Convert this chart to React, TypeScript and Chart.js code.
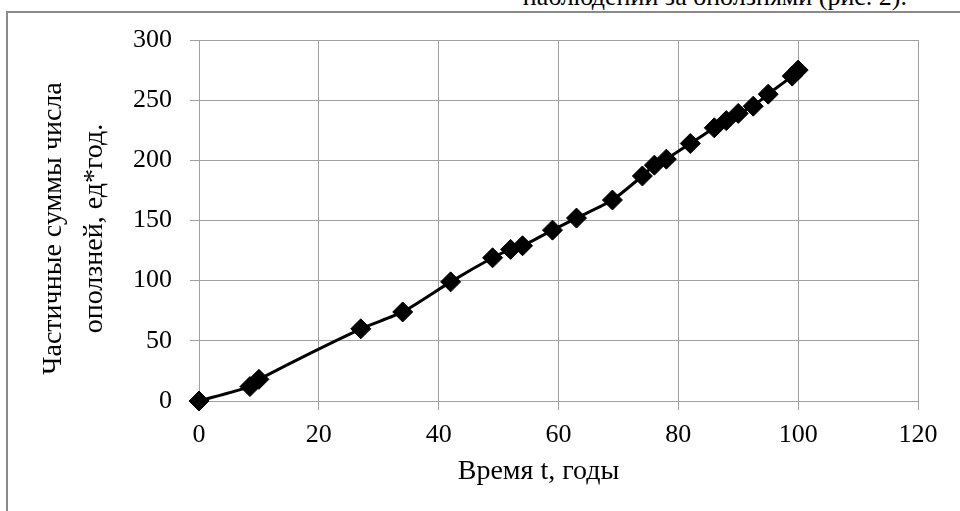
import React, { useEffect, useRef } from "react";
import { Chart, registerables } from "chart.js";

Chart.register(...registerables);

// Время наблюдений, годы
const years = [0, 8.5, 10, 27, 34, 42, 49, 52, 54, 59, 63, 69, 74, 76, 78, 82, 86, 88, 90, 92.5, 95, 99, 100];
// Частичные суммы числа оползней, ед*год.
const partialSums = [0, 12, 18, 60, 74, 99, 119, 126, 129, 142, 152, 167, 187, 196, 201, 214, 227, 233, 239, 245, 255, 270, 275];

const xTicks = [0, 20, 40, 60, 80, 100, 120];
const yTicks = [0, 50, 100, 150, 200, 250, 300];

const xTitle = "Время t, годы";
const yTitleLines = ["Частичные суммы числа", "оползней, ед*год."];
const headerText = "наблюдений за оползнями (рис. 2).";

const FONT = "'Liberation Serif', 'Times New Roman', serif";
const GRID = "#a0a0a0";

const axisCaptions = {
  id: "axisCaptions",
  afterDraw(chart: any) {
    const { ctx, chartArea } = chart;
    ctx.save();
    ctx.fillStyle = "#000";
    ctx.font = `28px ${FONT}`;
    ctx.textAlign = "center";
    ctx.textBaseline = "middle";
    const cx = (chartArea.left + chartArea.right) / 2 - 20;
    ctx.fillText(xTitle, cx, chartArea.bottom + 71);

    const cy = (chartArea.top + chartArea.bottom) / 2 + 8;
    ctx.translate(0, cy);
    ctx.rotate(-Math.PI / 2);
    ctx.fillText(yTitleLines[0], 0, 54);
    ctx.fillText(yTitleLines[1], 0, 95);
    ctx.restore();
  },
};

export default function App() {
  const canvasRef = useRef<HTMLCanvasElement | null>(null);

  useEffect(() => {
    const canvas = canvasRef.current;
    if (!canvas) return;
    const points = years.map((t, i) => ({ x: t, y: partialSums[i] }));
    const chart = new Chart(canvas, {
      type: "scatter",
      data: {
        datasets: [
          {
            data: points,
            showLine: true,
            clip: false,
            borderColor: "#000",
            borderWidth: 3,
            tension: 0.2,
            pointStyle: "rectRot",
            pointRadius: 10,
            pointBackgroundColor: "#000",
            pointBorderColor: "#000",
            pointBorderWidth: 1,
          },
        ],
      },
      options: {
        responsive: false,
        animation: false,
        layout: { padding: { top: 40, right: 42, left: 0, bottom: 0 } },
        plugins: {
          legend: { display: false },
          tooltip: { enabled: false },
        },
        scales: {
          x: {
            type: "linear",
            min: 0,
            max: 120,
            afterBuildTicks: (scale: any) => {
              scale.ticks = xTicks.map((v) => ({ value: v }));
            },
            afterFit: (scale: any) => {
              scale.height = 110;
            },
            ticks: {
              color: "#000",
              font: { family: FONT, size: 26 },
              padding: 10,
              maxRotation: 0,
            },
            grid: { color: GRID, lineWidth: 1, tickLength: 9 },
            border: { color: GRID, width: 1 },
          },
          y: {
            type: "linear",
            min: 0,
            max: 300,
            afterBuildTicks: (scale: any) => {
              scale.ticks = yTicks.map((v) => ({ value: v }));
            },
            afterFit: (scale: any) => {
              scale.width = 199;
            },
            ticks: {
              color: "#000",
              font: { family: FONT, size: 26 },
              padding: 18,
            },
            grid: { color: GRID, lineWidth: 1, tickLength: 9 },
            border: { color: GRID, width: 1 },
          },
        },
      },
      plugins: [axisCaptions],
    });
    return () => chart.destroy();
  }, []);

  return (
    <div
      style={{
        position: "fixed",
        left: 0,
        top: 0,
        width: 960,
        height: 511,
        overflow: "hidden",
        background: "#fff",
      }}
    >
      <div
        style={{
          position: "absolute",
          right: 53,
          top: -16,
          fontFamily: FONT,
          fontSize: 26,
          lineHeight: "26px",
          whiteSpace: "nowrap",
          color: "#000",
        }}
      >
        {headerText}
      </div>
      <div
        style={{
          position: "absolute",
          left: 6,
          top: 11,
          width: 1000,
          height: 600,
          border: "2px solid #8a8a8a",
        }}
      />
      <canvas
        ref={canvasRef}
        width={960}
        height={511}
        style={{ position: "absolute", left: 0, top: 0, width: 960, height: 511 }}
      />
    </div>
  );
}
